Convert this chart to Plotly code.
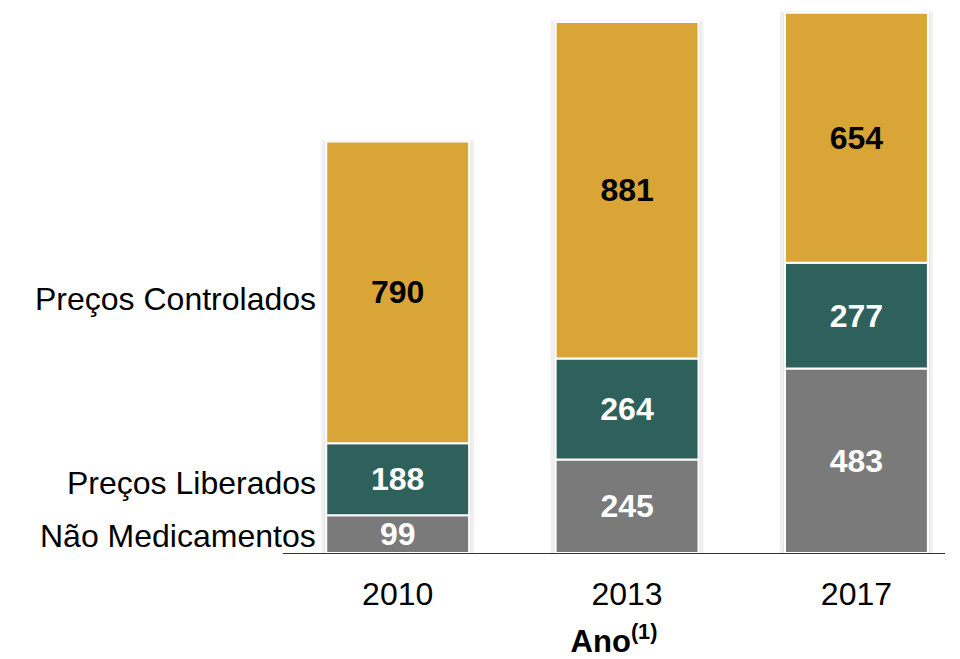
import plotly.graph_objects as go

anos = ["2010", "2013", "2017"]
nao_medicamentos = [99, 245, 483]
precos_liberados = [188, 264, 277]
precos_controlados = [790, 881, 654]
series_names = ["Não Medicamentos", "Preços Liberados", "Preços Controlados"]

colors = ["#7A7A7A", "#2E605C", "#D9A537"]
text_colors = ["white", "white", "black"]
label_yshift = [-2, -4, -7]
FONT = "Liberation Sans, Arial, sans-serif"

series = [nao_medicamentos, precos_liberados, precos_controlados]
totals = [sum(v) for v in zip(*series)]

fig = go.Figure()
BW = 0.623

# faint shadow behind each stacked bar
fig.add_trace(go.Bar(
    x=anos, y=totals, width=BW + 0.03,
    marker=dict(color="#e4e4e4", line=dict(color="#f0f0f0", width=3)),
    hoverinfo="skip", showlegend=False,
))

base = [0, 0, 0]
for name, vals, c, tc, ys in zip(series_names, series, colors, text_colors, label_yshift):
    fig.add_trace(go.Bar(
        x=anos, y=vals, base=list(base), width=BW, name=name,
        marker=dict(color=c, line=dict(color="white", width=2)),
        text=[str(v) for v in vals], textposition="inside",
        insidetextanchor="middle", textangle=0, constraintext="none",
        textfont=dict(family=FONT, size=32, color=tc),
        texttemplate="<b>%{text}</b>",
        showlegend=False,
    ))
    # left-side label at the 2010 segment midpoint
    fig.add_annotation(
        x=0, y=base[0] + vals[0] / 2, xref="x", yref="y",
        text=name, showarrow=False, xanchor="right", yanchor="middle",
        xshift=-(71.5 + 8), yshift=ys,
        font=dict(family=FONT, size=32, color="black"),
    )
    base = [b + v for b, v in zip(base, vals)]

fig.update_layout(
    barmode="overlay",
    width=952, height=651,
    margin=dict(l=275, r=15, t=0, b=106),
    plot_bgcolor="white", paper_bgcolor="white",
    uniformtext=dict(minsize=10, mode="show"),
)
fig.update_xaxes(
    type="category", range=[-0.5, 2.386],
    showline=True, linecolor="#333333", linewidth=1,
    ticks="outside", ticklen=13, tickcolor="white",
    tickfont=dict(family=FONT, size=32, color="black"),
    title=dict(text="<b>Ano<sup>(1)</sup></b>", font=dict(family=FONT, size=31, color="black"), standoff=22),
    showgrid=False, zeroline=False,
)
fig.update_yaxes(
    range=[0, 545 / 0.382], visible=False, showgrid=False, zeroline=False,
)

fig.write_html("out.html")
